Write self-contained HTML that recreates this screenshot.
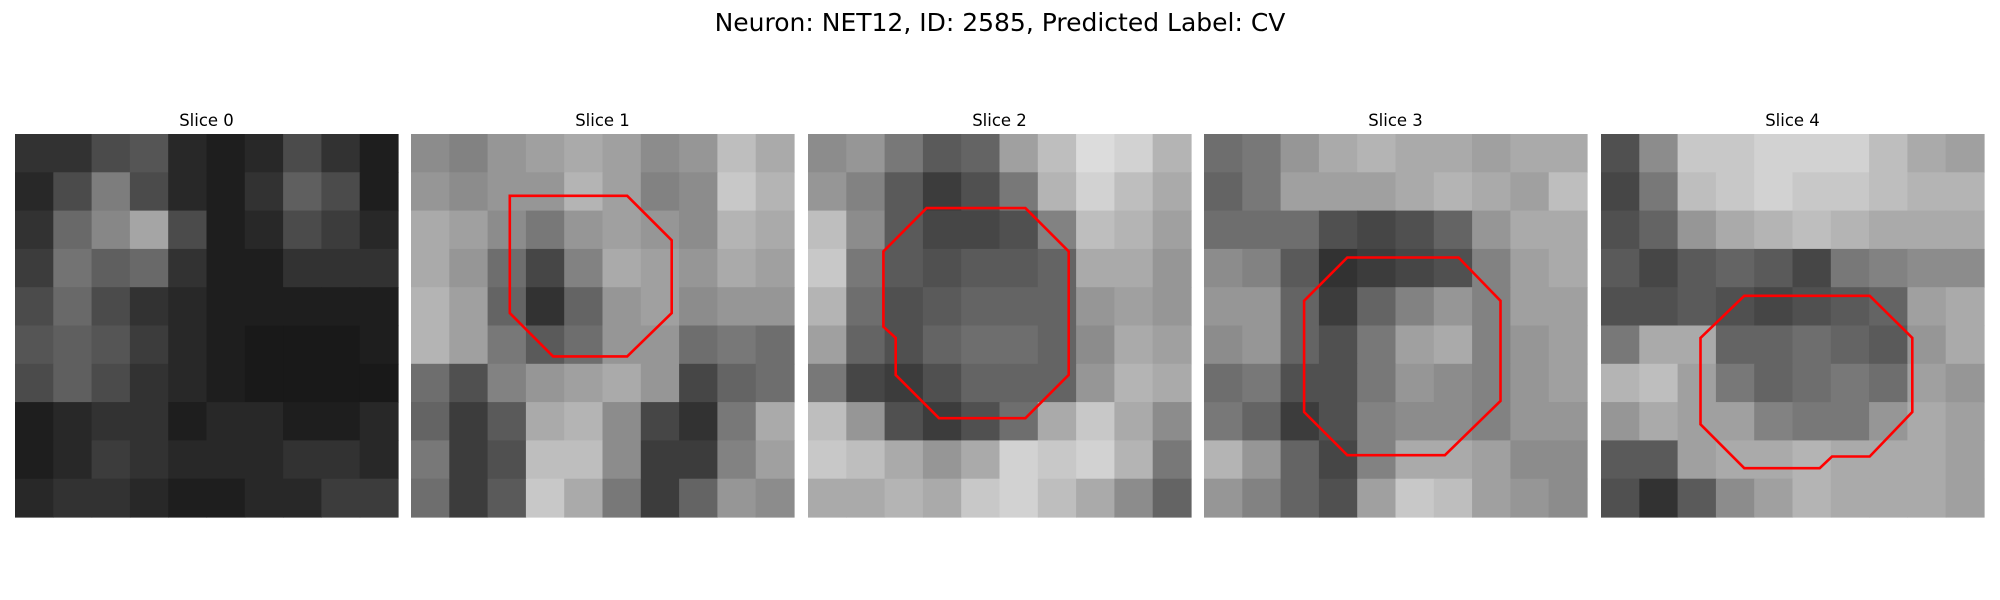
<!DOCTYPE html>
<html><head><meta charset="utf-8"><style>
html,body{margin:0;padding:0;background:#fff;}
svg{display:block;}
text{font-family:"DejaVu Sans","Liberation Sans",sans-serif;fill:#000;}
</style></head><body>
<svg id="fig" width="2000" height="600" viewBox="0 0 2000 600">
<text x="1000" y="31" text-anchor="middle" font-size="25">Neuron: NET12, ID: 2585, Predicted Label: CV</text>
<g id="panels"></g>
</svg>
<script>
const sliceTitles = ["Slice 0","Slice 1","Slice 2","Slice 3","Slice 4"];
const slice0 = [
[50,50,75,85,40,30,40,75,50,30],[40,75,125,75,40,30,50,95,75,30],[50,105,135,165,75,30,40,75,60,40],
[60,115,95,105,50,30,30,50,50,50],[75,105,75,50,40,30,30,30,30,30],[85,95,85,60,40,30,25,25,25,30],
[75,95,75,50,40,30,25,25,25,25],[30,40,50,50,30,40,40,30,30,40],[30,40,60,50,40,40,40,50,50,40],
[40,50,50,40,30,30,40,40,60,60]];
const slice1 = [
[140,130,150,160,170,160,140,150,190,170],[150,140,150,150,180,160,130,140,200,180],[170,160,140,120,150,160,150,140,180,170],
[170,150,110,70,130,170,160,150,170,160],[180,160,100,50,100,150,160,140,150,150],[180,160,120,90,110,150,150,110,120,110],
[110,80,130,150,160,170,150,70,100,110],[100,60,90,170,180,140,70,50,120,170],[120,60,80,190,190,140,60,60,130,160],
[110,60,90,200,170,120,60,100,150,140]];
const slice2 = [
[140,150,120,90,100,160,190,220,210,180],[150,130,90,60,80,120,180,210,190,170],[190,140,90,70,70,80,130,190,180,160],
[200,120,90,80,90,90,100,170,170,150],[180,110,80,90,100,100,100,150,160,150],[160,100,80,100,110,110,100,140,170,160],
[120,70,60,80,100,100,100,150,180,170],[190,150,80,60,80,110,170,200,170,140],[200,190,170,150,170,210,200,210,180,120],
[170,170,180,170,200,210,190,170,140,100]];
const slice3 = [
[110,120,150,170,180,170,170,160,170,170],[100,120,160,160,160,170,180,170,160,190],[110,110,110,80,70,80,100,150,170,170],
[140,130,90,50,60,70,80,130,160,170],[150,150,100,60,100,130,150,130,160,160],[140,150,100,80,120,160,170,130,150,160],
[110,120,80,80,120,150,140,130,150,160],[120,100,60,80,130,140,140,130,150,150],[180,150,100,70,130,170,170,160,140,140],
[150,130,100,80,160,200,190,160,150,140]];
const slice4 = [
[80,140,200,200,210,210,210,190,170,160],[70,120,190,200,210,200,200,190,180,180],[80,100,150,170,180,190,180,170,170,170],
[90,70,90,100,90,70,120,130,140,140],[80,80,90,80,70,80,90,100,160,170],[120,170,170,100,100,110,100,90,150,170],
[180,190,160,120,100,110,120,110,160,150],[150,170,160,160,130,120,120,150,170,160],[90,90,160,170,170,180,170,170,170,160],
[80,50,90,140,160,180,170,170,170,160]];
const slices = [slice0,slice1,slice2,slice3,slice4];
const roi1 = [[8.0,5.0],[11.5,5.0],[17.5,5.0],[21.1,8.6],[21.1,14.5],[17.5,18.0],[11.5,18.0],[8.0,14.5],[8.0,8.6]];
const roi2 = [[9.6,6.0],[17.6,6.0],[21.1,9.5],[21.1,19.5],[17.6,23.0],[10.6,23.0],[7.1,19.5],[7.1,16.5],[6.1,15.6],[6.1,9.5]];
const roi3 = [[11.6,10.0],[20.6,10.0],[24.0,13.5],[24.0,21.6],[19.5,26.0],[11.6,26.0],[8.1,22.5],[8.1,13.5]];
const roi4 = [[11.6,13.1],[21.75,13.1],[25.2,16.5],[25.2,22.5],[21.75,26.1],[18.7,26.1],[17.7,27.05],[11.6,27.05],[8.05,23.5],[8.05,16.5]];
const rois = [null,roi1,roi2,roi3,roi4];

const NS="http://www.w3.org/2000/svg";
const panelX=[15,411,808,1204,1601], panelY=134, panelS=383, gridN=31;
const g=document.getElementById('panels');
function mk(t,a){const e=document.createElementNS(NS,t);for(const k in a)e.setAttribute(k,a[k]);return e;}
slices.forEach((data,i)=>{
  const px=panelX[i];
  const pg=mk('g',{});
  
  
  const t=mk('text',{x:px+panelS/2,y:126,'text-anchor':'middle','font-size':'16.5'});
  t.textContent=sliceTitles[i];
  
  
  pg.appendChild(t);
  const n=data.length, cs=panelS/n;
  data.forEach((row,r)=>row.forEach((v,c)=>{
    const rc=mk('rect',{x:(px+c*cs).toFixed(2),y:(panelY+r*cs).toFixed(2),width:(cs+0.6).toFixed(2),height:(cs+0.6).toFixed(2),fill:`rgb(${v},${v},${v})`});
    
    
    pg.appendChild(rc);
  }));
  const roi=rois[i];
  if(roi){
    const u=panelS/gridN;
    const pts=roi.map(p=>(px+p[0]*u).toFixed(1)+','+(panelY+p[1]*u).toFixed(1)).join(' ');
    const pl=mk('polygon',{points:pts,fill:'none',stroke:'#ff0000','stroke-width':'2.6','stroke-linejoin':'miter'});
    
    
    pg.appendChild(pl);
  }
  g.appendChild(pg);
});
</script>
</body></html>
